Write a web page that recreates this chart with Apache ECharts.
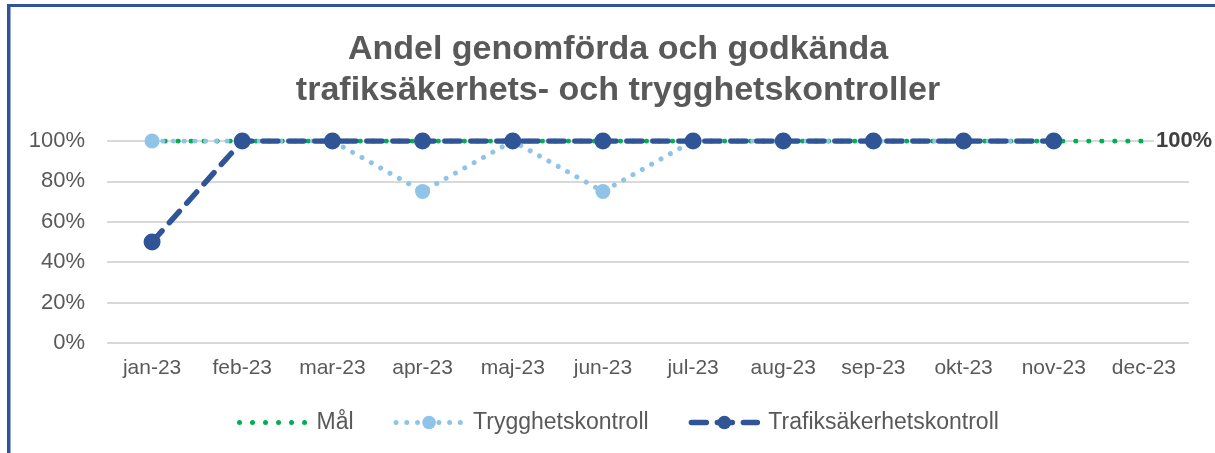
<!DOCTYPE html>
<html>
<head>
<meta charset="utf-8">
<script src="https://cdn.jsdelivr.net/npm/echarts@6/dist/echarts.min.js"></script>
<style>
  html, body { margin: 0; padding: 0; background: #fff; }
  #chart { width: 1215px; height: 453px; }
</style>
</head>
<body>
<div id="chart"></div>
<script>
  const months = ['jan-23', 'feb-23', 'mar-23', 'apr-23', 'maj-23', 'jun-23', 'jul-23', 'aug-23', 'sep-23', 'okt-23', 'nov-23', 'dec-23'];
  const mal = [100, 100, 100, 100, 100, 100, 100, 100, 100, 100, 100, 100];
  const trygghet = [100, 100, 100, 75, 100, 75, 100, 100, 100, 100, 100, null];
  const trafiksakerhet = [50, 100, 100, 100, 100, 100, 100, 100, 100, 100, 100, null];

  const textFont = '"Liberation Sans", Arial, sans-serif';
  const gray = '#595959';

  let myChart = echarts.init(document.getElementById('chart'));
  let option = {
    animation: false,
    title: {
      text: 'Andel genomförda och godkända\ntrafiksäkerhets- och trygghetskontroller',
      left: 613,
      textAlign: 'center',
      top: 24,
      textStyle: {
        fontFamily: textFont,
        fontWeight: 'bold',
        fontSize: 34,
        lineHeight: 41,
        color: gray
      }
    },
    graphic: [
      { type: 'rect', shape: { x: 7, y: 4, width: 1208, height: 3 }, style: { fill: '#2f5597' } },
      { type: 'rect', shape: { x: 7, y: 4, width: 3.5, height: 449 }, style: { fill: '#2f5597' } }
    ],
    legend: {
      data: [
        { name: 'Mål', itemStyle: { opacity: 0 } },
        'Trygghetskontroll',
        'Trafiksäkerhetskontroll'
      ],
      top: 406,
      left: 232,
      itemWidth: 66,
      itemHeight: 17,
      itemGap: 40,
      lineStyle: { width: 'inherit' },
      textStyle: { fontFamily: textFont, fontSize: 23, color: gray, padding: [0, 0, 0, 6] }
    },
    grid: { left: 107, right: 26, top: 141, bottom: 110 },
    xAxis: {
      type: 'category',
      data: months,
      axisLine: { show: false },
      axisTick: { show: false },
      axisLabel: { interval: 0, fontFamily: textFont, fontSize: 21, color: gray, margin: 15 }
    },
    yAxis: {
      type: 'value',
      min: 0,
      max: 100,
      interval: 20,
      axisLabel: { formatter: '{value}%', fontFamily: textFont, fontSize: 22, color: gray, margin: 22 },
      splitLine: { lineStyle: { color: '#d9d9d9', width: 2 } }
    },
    series: [
      {
        name: 'Mål',
        type: 'line',
        data: mal,
        symbol: 'none',
        color: '#00b050',
        lineStyle: { width: 5, type: [0.01, 13], cap: 'round', color: '#00b050' },
        endLabel: {
          show: true,
          formatter: p => p.value + '%',
          distance: 10,
          fontFamily: textFont,
          fontSize: 22,
          fontWeight: 'bold',
          color: '#404040',
          backgroundColor: '#fff',
          padding: [2, 2]
        }
      },
      {
        name: 'Trygghetskontroll',
        type: 'line',
        data: trygghet,
        symbol: 'circle',
        symbolSize: 15,
        color: '#8fc3e8',
        itemStyle: { color: '#8fc3e8' },
        lineStyle: { width: 5, type: [0.01, 10.7], cap: 'round', color: '#8fc3e8' }
      },
      {
        name: 'Trafiksäkerhetskontroll',
        type: 'line',
        data: trafiksakerhet,
        symbol: 'circle',
        symbolSize: 17,
        color: '#2f5597',
        itemStyle: { color: '#2f5597' },
        lineStyle: { width: 5.5, type: [15, 11], cap: 'round', color: '#2f5597' }
      }
    ]
  };
  myChart.setOption(option);
</script>
</body>
</html>
